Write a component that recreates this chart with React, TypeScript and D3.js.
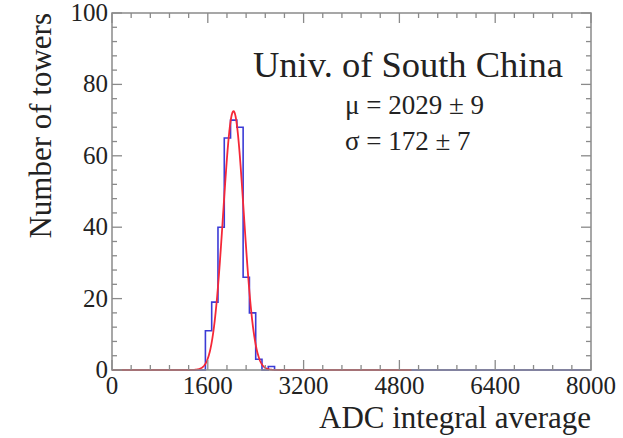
import React from 'react';
import * as d3 from 'd3';

const xTicks = [0, 1600, 3200, 4800, 6400, 8000];
const yTicks = [0, 20, 40, 60, 80, 100];
const xMinorStep = 320;
const yMinorStep = 4;
const binStart = 1560;
const binWidth = 105;
const counts = [11, 19, 40, 65, 70, 68, 26, 16, 3, 0, 1];
const fitMu = 2029;
const fitSigma = 172;
const fitAmp = 72.5;
const fitRange = [0, 5000];
const titleText = 'Univ. of South China';
const statLines = ['\u03bc = 2029 \u00b1 9', '\u03c3 = 172 \u00b1 7'];
const xTitle = 'ADC integral average';
const yTitle = 'Number of towers';

const W = 623;
const H = 438;
const L = 112, R = 591, T = 13, B = 370;
const FONT = '"Liberation Serif", "Times New Roman", serif';

export default function App() {
  const x = d3.scaleLinear().domain([0, 8000]).range([L, R]);
  const y = d3.scaleLinear().domain([0, 100]).range([B, T]);

  const xMinor = d3.range(0, 8000 + 1, xMinorStep);
  const yMinor = d3.range(0, 100 + 1, yMinorStep);

  const histPts: [number, number][] = [[0, 0]];
  counts.forEach((c, i) => histPts.push([binStart + i * binWidth, c]));
  histPts.push([binStart + counts.length * binWidth, 0]);
  histPts.push([8000, 0]);
  const histPath = d3
    .line<[number, number]>()
    .x((d) => x(d[0]))
    .y((d) => y(d[1]))
    .curve(d3.curveStepAfter)(histPts) as string;

  const fitPts = d3.range(fitRange[0], fitRange[1] + 1, 5).map(
    (v) => [v, fitAmp * Math.exp(-0.5 * ((v - fitMu) / fitSigma) ** 2)] as [number, number]
  );
  const fitPath = d3
    .line<[number, number]>()
    .x((d) => x(d[0]))
    .y((d) => y(d[1]))(fitPts) as string;

  const frame = '#8a8a8a';
  const txt = '#222';

  return (
    <svg
      width={W}
      height={H}
      style={{ position: 'absolute', left: 0, top: 0, background: '#fff' }}
    >
      <rect x={0} y={0} width={W} height={H} fill="#fff" />
      {/* histogram + fit */}
      <path d={histPath} fill="none" stroke="#3b3bd6" strokeWidth={1.6} />
      <path d={fitPath} fill="none" stroke="#f52838" strokeWidth={1.8} />
      {/* frame */}
      <rect x={L} y={T} width={R - L} height={B - T} fill="none" stroke={frame} strokeWidth={1.5} />
      {/* x ticks bottom & top */}
      {xMinor.map((v) => {
        const major = v % 1600 === 0;
        const len = major ? 10 : 5;
        return (
          <g key={'xt' + v}>
            <line x1={x(v)} x2={x(v)} y1={B} y2={B - len} stroke={frame} strokeWidth={1.3} />
            <line x1={x(v)} x2={x(v)} y1={T} y2={T + len} stroke={frame} strokeWidth={1.3} />
          </g>
        );
      })}
      {yMinor.map((v) => {
        const major = v % 20 === 0;
        const len = major ? 10 : 5;
        return (
          <g key={'yt' + v}>
            <line x1={L} x2={L + len} y1={y(v)} y2={y(v)} stroke={frame} strokeWidth={1.3} />
            <line x1={R} x2={R - len} y1={y(v)} y2={y(v)} stroke={frame} strokeWidth={1.3} />
          </g>
        );
      })}
      {/* tick labels */}
      {xTicks.map((v) => (
        <text
          key={'xl' + v}
          x={x(v)}
          y={B + 24}
          textAnchor="middle"
          fontFamily={FONT}
          fontSize={25}
          fill={txt}
        >
          {v}
        </text>
      ))}
      {yTicks.map((v) => (
        <text
          key={'yl' + v}
          x={L - 4}
          y={y(v) + 8}
          textAnchor="end"
          fontFamily={FONT}
          fontSize={25}
          fill={txt}
        >
          {v}
        </text>
      ))}
      {/* axis titles */}
      <text x={R} y={428} textAnchor="end" fontFamily={FONT} fontSize={31} fill={txt}>
        {xTitle}
      </text>
      <text
        transform={`translate(51, ${T}) rotate(-90)`}
        textAnchor="end"
        fontFamily={FONT}
        fontSize={31}
        fill={txt}
      >
        {yTitle}
      </text>
      {/* annotations */}
      <text x={253} y={77} fontFamily={FONT} fontSize={36.5} fill={txt}>
        {titleText}
      </text>
      {statLines.map((s, i) => (
        <text key={s} x={345} y={114 + i * 36} fontFamily={FONT} fontSize={27} fill={txt}>
          {s}
        </text>
      ))}
    </svg>
  );
}
